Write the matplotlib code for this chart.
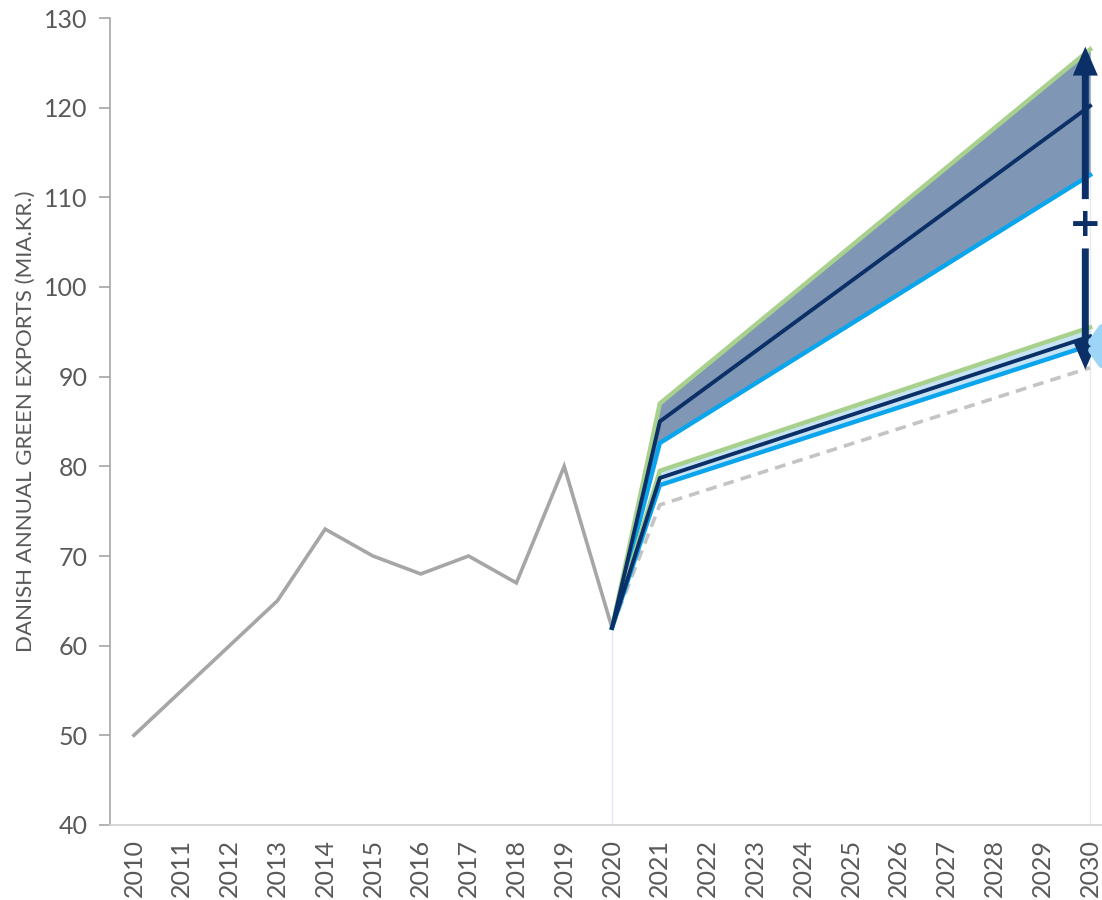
import matplotlib
matplotlib.use("Agg")
import matplotlib.pyplot as plt

plt.rcParams['font.family'] = ['Lato', 'DejaVu Sans']

# Historical exports
hist_years = [2010, 2011, 2012, 2013, 2014, 2015, 2016, 2017, 2018, 2019, 2020]
hist_values = [50, 55, 60, 65, 73, 70, 68, 70, 67, 80, 62]

# Projection anchor years
proj_years = [2020, 2021, 2030]

# High scenario
high_upper = [62, 87.0, 126.5]
high_mid = [62, 85.0, 120.2]
high_lower = [62, 82.6, 112.5]

# Low scenario
low_upper = [62, 79.5, 95.5]
low_mid = [62, 78.7, 94.5]
low_lower = [62, 77.9, 93.5]

# Baseline trend
baseline = [62, 75.7, 91.0]

year_ticks = list(range(2010, 2031))
y_ticks = list(range(40, 131, 10))

GRAY = '#A6A6A6'
GREEN = '#A9D18E'
NAVY = '#0B2F67'
BLUE = '#0AA5EC'
TEXT = '#595959'

fig = plt.figure(figsize=(11.02, 9.0), dpi=100)
ax = fig.add_axes([110 / 1102, 75 / 900, 1004 / 1102, 807 / 900])

# faint drop lines
ax.vlines([2020], 40, 62, color='#E3EAF2', lw=1, zorder=1)
ax.vlines([2030], 40, 127, color='#E3EAF2', lw=1, zorder=1)

ax.fill_between(proj_years, high_lower, high_upper, color='#8096B5', lw=0, zorder=2)
ax.fill_between(proj_years, low_lower, low_upper, color='#C7E4F7', lw=0, zorder=2)

ax.plot(hist_years, hist_values, color=GRAY, lw=2.6, zorder=3, solid_joinstyle='miter')
ax.plot(proj_years, baseline, color='#C4C4C4', lw=2.6, ls=(0, (3, 2)), zorder=3)

for up, mid, lo in [(high_upper, high_mid, high_lower), (low_upper, low_mid, low_lower)]:
    ax.plot(proj_years, up, color=GREEN, lw=3.2, zorder=4)
    ax.plot(proj_years, lo, color=BLUE, lw=3.2, zorder=4)
    ax.plot(proj_years, mid, color=NAVY, lw=2.8, zorder=5)

# range arrows
arrow_x = 2029.9
head = dict(arrowstyle='-|>,head_length=0.6,head_width=0.26', color=NAVY, lw=5,
            shrinkA=0, shrinkB=0, mutation_scale=20, capstyle='butt', joinstyle='miter')
ax.annotate('', xy=(arrow_x, 126.8), xytext=(arrow_x, 109.8), arrowprops=head, zorder=6)
ax.annotate('', xy=(arrow_x, 90.8), xytext=(arrow_x, 104.3), arrowprops=head, zorder=6)
ax.text(arrow_x, 106.9, '+', color=NAVY, fontsize=28, fontweight='bold',
        family='DejaVu Sans', ha='center', va='center', zorder=6)

lb_x = 2030.25
ax.annotate('', xy=(lb_x, 96.2), xytext=(lb_x, 90.6),
            arrowprops=dict(arrowstyle='<|-|>,head_length=0.5,head_width=0.35',
                            color='#9DD5F7', lw=6, shrinkA=0, shrinkB=0,
                            mutation_scale=20, capstyle='butt'),
            zorder=6, annotation_clip=False)

ax.set_xlim(2009.5, 2030.5)
ax.set_ylim(40, 130)
ax.set_xticks(year_ticks)
ax.set_xticklabels([str(y) for y in year_ticks], rotation=90)
ax.set_yticks(y_ticks)

for s in ['top', 'right']:
    ax.spines[s].set_visible(False)
ax.spines['left'].set_color('#A6A6A6')
ax.spines['bottom'].set_color('#D0D0D0')
ax.spines['left'].set_linewidth(1.2)
ax.spines['bottom'].set_linewidth(1.2)

ax.tick_params(axis='y', direction='out', length=8, width=1.2, color='#A6A6A6',
               labelsize=18, labelcolor=TEXT, pad=8)
ax.tick_params(axis='x', length=0, labelsize=18, labelcolor=TEXT, pad=10)

ax.set_ylabel('DANISH ANNUAL GREEN EXPORTS (MIA.KR.)', color=TEXT, fontsize=16, labelpad=6)

fig.savefig('out.png', dpi=100)
